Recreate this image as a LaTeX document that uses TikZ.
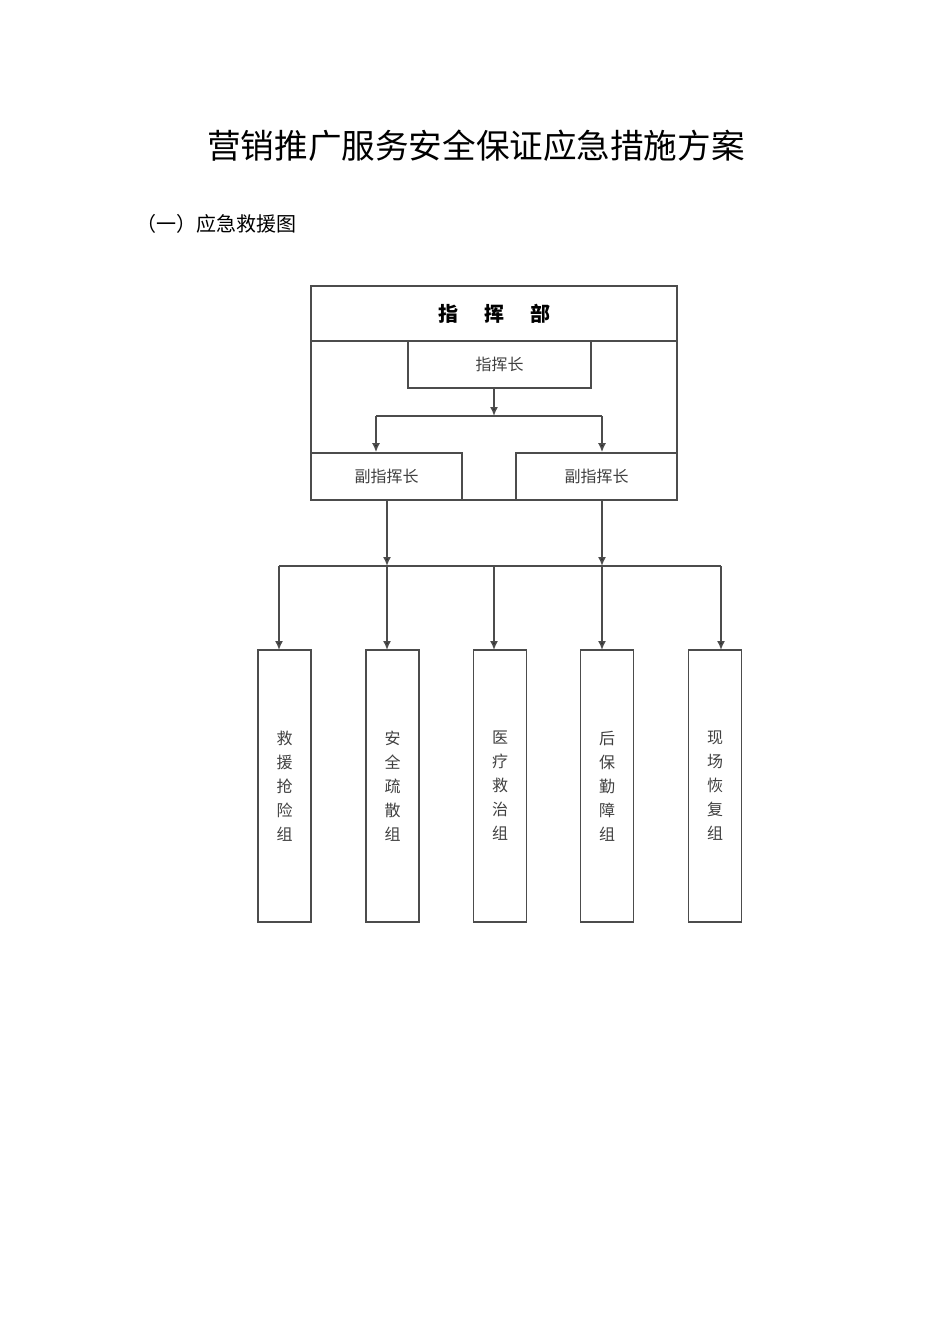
\documentclass[tikz,border=0pt]{standalone}
\usepackage{fontspec}
\newfontfamily\cjk{Noto Sans CJK SC}
\usetikzlibrary{arrows.meta}
\tikzset{
  box/.style={draw=black!70,thick,inner sep=0pt,text=black!75,font=\cjk\fontsize{8}{12}\selectfont},
  groupbox/.style={box,minimum width=26.5pt,minimum height=136pt,align=center},
  link/.style={draw=black!70,thick},
  arr/.style={link,-{Latex[length=4.5pt,width=4pt,fill=black!85]}}
}
\begin{document}
\begin{tikzpicture}[x=0.5pt,y=-0.5pt]
\useasboundingbox (0,0) rectangle (950,1318);
\node (title) at (476,146) {\cjk\fontsize{16.8}{20}\selectfont 营销推广服务安全保证应急措施方案};
\node[anchor=west] (sub) at (129,224) {\cjk\fontsize{10}{12}\selectfont （一）应急救援图};

\draw[link] (311,286) rectangle (677,500);
\node[box,minimum width=183pt,minimum height=27.5pt,text=black,font=\cjk\bfseries\fontsize{10}{12}\selectfont] (hq) at (494,313.5) {\raisebox{1pt}{指\hspace{1.3em}挥\hspace{1.3em}部}};
\node[box,minimum width=91.5pt,minimum height=23.5pt] (chief) at (499.5,364.5) {指挥长};
\node[box,minimum width=75.5pt,minimum height=23.5pt] (depa) at (386.5,476.5) {副指挥长};
\node[box,minimum width=80.5pt,minimum height=23.5pt] (depb) at (596.5,476.5) {副指挥长};

\coordinate (split) at (494,416);
\coordinate (ja) at (376,416);
\coordinate (jb) at (602,416);
\draw[arr] (split |- chief.south) -- (split);
\draw[link] (ja) -- (jb);
\draw[arr] (ja) -- (ja |- depa.north);
\draw[arr] (jb) -- (jb |- depb.north);

\coordinate (busa) at (279,566);
\coordinate (busb) at (721,566);
\draw[link] (busa) -- (busb);
\draw[arr] (387,500) -- (387,566);
\draw[arr] (jb |- depb.south) -- (jb |- busa);

\foreach \n/\x/\ax/\t in {1/284.5/279/救\\援\\抢\\险\\组,
                          2/392.5/387/安\\全\\疏\\散\\组,
                          3/500/494/医\\疗\\救\\治\\组,
                          4/607/602/后\\保\\勤\\障\\组,
                          5/715/721/现\\场\\恢\\复\\组}{
  \node[groupbox] (g\n) at (\x,786) {\t};
  \draw[arr] (\ax,566) -- (\ax,650);
}
\end{tikzpicture}
\end{document}
